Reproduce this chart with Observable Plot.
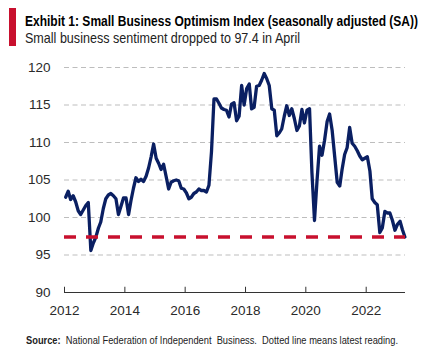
<!DOCTYPE html>
<html><head><meta charset="utf-8">
<script src="https://cdn.jsdelivr.net/npm/d3@7"></script>
<script src="https://cdn.jsdelivr.net/npm/@observablehq/plot@0.6"></script>
<style>
html,body{margin:0;padding:0;background:#fff;}
body{width:427px;height:354px;position:relative;overflow:hidden;font-family:"Liberation Sans",Arial,sans-serif;}
#bar{position:absolute;left:9px;top:8px;width:7px;height:38px;background:#c8102e;}
.fit{position:absolute;left:25px;white-space:nowrap;transform-origin:0 0;display:inline-block;line-height:1;}
#title{top:13.3px;font-weight:bold;font-size:15.5px;color:#000;}
#sub{top:31.2px;font-size:14.3px;color:#222;}
#src{top:335.5px;left:26px;font-size:10px;color:#222;}
#chart{position:absolute;left:0;top:55px;}
</style></head>
<body>
<div id="bar"></div>
<div id="title" class="fit" data-w="393">Exhibit 1: Small Business Optimism Index (seasonally adjusted (SA))</div>
<div id="sub" class="fit" data-w="275">Small business sentiment dropped to 97.4 in April</div>
<div id="chart"></div>
<div id="src" class="fit" data-w="372"><b>Source:</b>&nbsp; National Federation of Independent&nbsp; Business.&nbsp; Dotted line means latest reading.</div>
<script>
// Monthly index values (Jan..Dec)
const v2012 = [102.7, 103.5, 102.4, 102.9, 102.1, 100.9, 100.4, 101.0, 101.6, 102.0, 95.6, 96.6];
const v2013 = [97.4, 98.6, 99.4, 101.2, 102.5, 103.0, 103.2, 102.9, 102.5, 100.4, 101.5, 102.6];
const v2014 = [102.6, 100.4, 102.2, 103.9, 105.3, 104.8, 105.1, 104.8, 105.5, 106.6, 108.1, 109.8];
const v2015 = [107.9, 107.2, 106.4, 107.1, 105.5, 103.8, 104.7, 104.9, 105.0, 104.9, 103.9, 103.8];
const v2016 = [103.3, 102.5, 102.7, 103.2, 103.4, 103.8, 103.6, 103.6, 103.4, 104.3, 108.8, 115.8];
const v2017 = [115.8, 115.2, 114.6, 114.4, 114.3, 113.4, 115.1, 115.3, 112.9, 113.5, 117.6, 115.0];
const v2018 = [117.2, 117.8, 114.5, 114.7, 117.5, 117.6, 118.3, 119.2, 118.5, 117.6, 114.5, 114.3];
const v2019 = [110.9, 111.3, 111.8, 113.5, 114.9, 113.6, 114.5, 113.2, 111.6, 112.2, 114.4, 112.6];
const v2020 = [114.3, 114.5, 106.0, 99.6, 104.8, 109.5, 108.3, 110.3, 112.8, 113.8, 111.6, 108.2];
const v2021 = [104.7, 104.2, 106.4, 108.4, 109.3, 112.0, 109.9, 109.5, 108.9, 108.2, 107.7, 107.9];
const v2022 = [108.1, 106.2, 102.5, 102.0, 101.7, 98.0, 98.6, 100.8, 100.6, 100.6, 99.6, 98.3];
const v2023 = [99.1, 99.5, 98.4, 97.4];

const yearSeries = [[2012, v2012], [2013, v2013], [2014, v2014], [2015, v2015], [2016, v2016], [2017, v2017],
  [2018, v2018], [2019, v2019], [2020, v2020], [2021, v2021], [2022, v2022], [2023, v2023]];
const xTickYears = [2012, 2014, 2016, 2018, 2020, 2022];
const yTicks = [90, 95, 100, 105, 110, 115, 120];
const gridTicks = [95, 100, 105, 110, 115, 120];

const data = yearSeries.flatMap(([yr, vals]) => vals.map((v, m) => ({date: new Date(Date.UTC(yr, m, 15)), value: v})));
const latest = data[data.length - 1].value;
const xTickDates = xTickYears.map(y => new Date(Date.UTC(y, 0, 1)));

const chart = Plot.plot({
  width: 427, height: 270,
  marginLeft: 64, marginRight: 22, marginTop: 12, marginBottom: 33,
  x: {type: "utc", domain: [new Date(Date.UTC(2012, 0, 1)), new Date(Date.UTC(2023, 3, 22))], label: null},
  y: {domain: [90, 120], label: null},
  style: {fontFamily: "'Liberation Sans', Arial, sans-serif", fontSize: "13.5px", color: "#2a2a2a", background: "#fff"},
  marks: [
    Plot.ruleY(gridTicks, {stroke: "#bdbdbd", strokeDasharray: "5,3.5"}),
    Plot.ruleY([90], {stroke: "#333"}),
    Plot.ruleX(xTickDates, {x: d => d, y1: 90, y2: 90.7, stroke: "#333"}),
    Plot.line(data, {x: "date", y: "value", stroke: "#0a1f62", strokeWidth: 3.3, strokeLinejoin: "round"}),
    Plot.ruleY([latest], {stroke: "#c8102e", strokeWidth: 3.5, strokeDasharray: "12,10"}),
    Plot.axisX({ticks: xTickDates, tickSize: 0, tickPadding: 13, tickFormat: d3.utcFormat("%Y"), label: null}),
    Plot.axisY({ticks: yTicks, tickSize: 0, tickPadding: 14, label: null})
  ]
});
document.getElementById("chart").appendChild(chart);

document.querySelectorAll(".fit").forEach(el => {
  const target = +el.dataset.w;
  const w = el.getBoundingClientRect().width;
  if (w > 0) el.style.transform = `scaleX(${target / w})`;
});
</script>
</body></html>
